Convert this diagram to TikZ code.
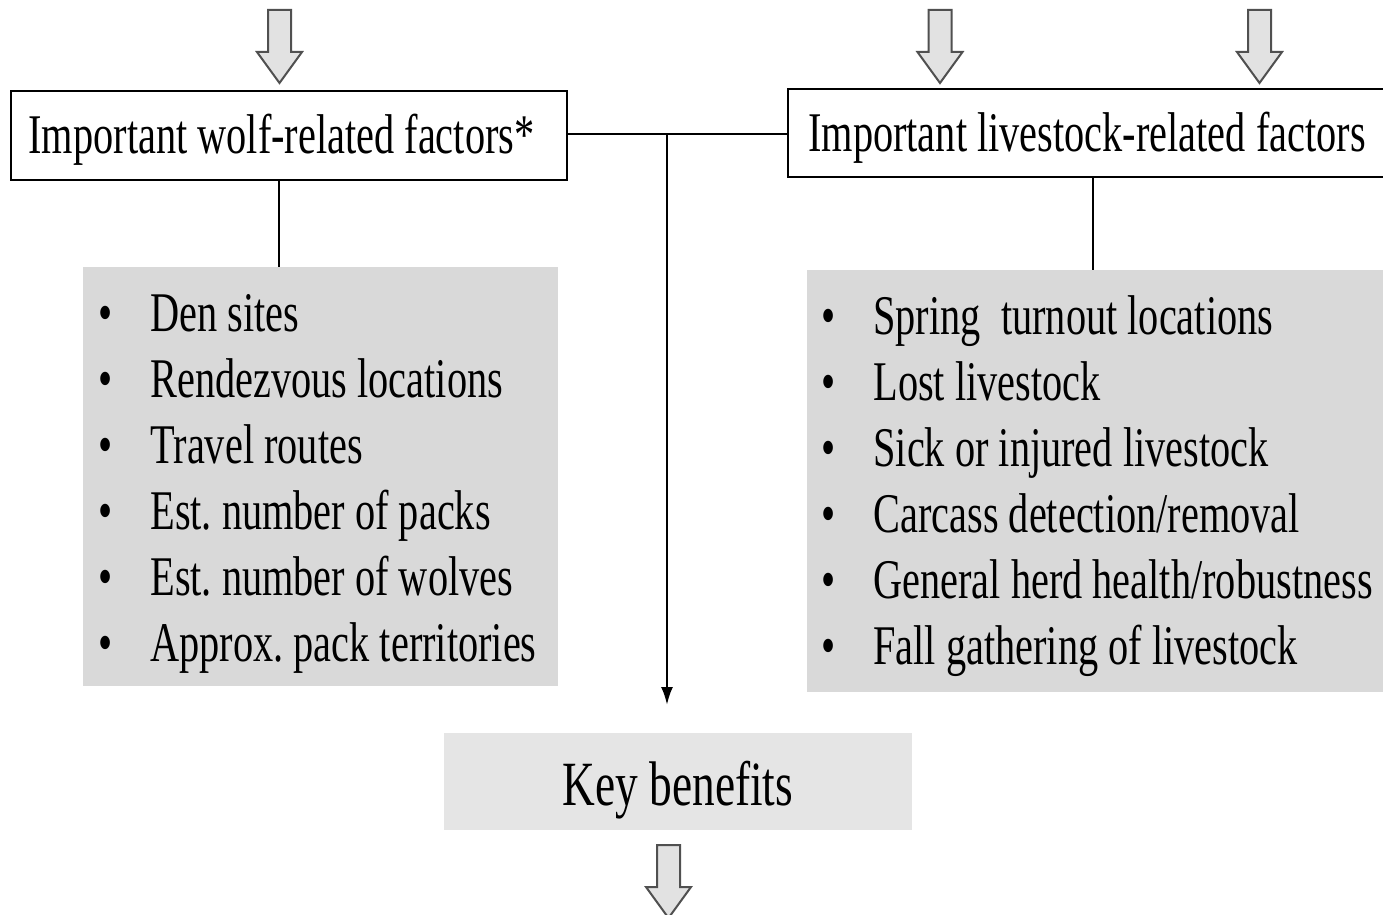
\documentclass[tikz,border=0pt]{standalone}
\usepackage{fontspec}
\setmainfont{Liberation Serif}[FakeStretch=0.72]
\usetikzlibrary{arrows.meta}
\definecolor{greybox}{HTML}{D9D9D9}
\definecolor{keygrey}{HTML}{E5E5E5}
\definecolor{arrowfill}{HTML}{E2E2E2}
\definecolor{arrowline}{HTML}{505050}
\tikzset{
  headbox/.style={draw=black, line width=1pt, fill=white, inner sep=0pt,
    text depth=0pt, font=\fontsize{28}{33}\selectfont},
  listbox/.style={fill=greybox, draw=none, inner sep=0pt},
  keystyle/.style={fill=keygrey, draw=none, inner sep=0pt, text depth=0pt,
    font=\fontsize{31.5}{36}\selectfont},
  item/.style={anchor=base west, inner sep=0pt, font=\fontsize{28}{33}\selectfont},
  conn/.style={draw=black, line width=1.2pt},
  barrow/.pic={\path[fill=arrowfill, draw=arrowline, line width=1pt, line join=miter]
    (-11.5,0) -- (11.5,0) -- (11.5,42) -- (22.5,42) -- (0,73) -- (-22.5,42) -- (-11.5,42) -- cycle;}
}
\begin{document}
\frenchspacing
\begin{tikzpicture}[x=0.5pt,y=-0.5pt]
\clip (0,0) rectangle (1383,915);
\fill[white] (0,0) rectangle (1383,915);

% block arrows
\pic at (279.5,10) {barrow};
\pic at (940,10) {barrow};
\pic at (1259.5,10) {barrow};
\pic at (668.5,845) {barrow};

% heading boxes
\node[headbox, minimum width=278pt, minimum height=44.5pt, text height=18.5pt]
  (wolfbox) at (289,135.5) {Important wolf-related factors*\kern7.5pt};
\node[headbox, minimum width=299pt, minimum height=44pt, text height=19pt]
  (livebox) at (1087,133) {Important livestock-related factors};

% grey list boxes
\node[listbox, minimum width=237.5pt, minimum height=209.5pt] (wolfgrey) at (320.5,476.5) {};
\node[listbox, minimum width=289.5pt, minimum height=211pt] (livegrey) at (1096.5,481) {};

% key benefits
\node[keystyle, minimum width=234pt, minimum height=48.5pt, text height=23.5pt] (keybox) at (678,781.5) {Key benefits};

% list items
\foreach \t [count=\i] in {Den sites, Rendezvous locations, Travel routes,
    Est. number of packs, Est. number of wolves, Approx. pack territories}
  \node[item] (w\i) at (98,{331+66*(\i-1)}) {\makebox[26pt][l]{•}\t};
\foreach \t [count=\i] in {Spring~ turnout locations, Lost livestock,
    Sick or injured livestock, Carcass detection/removal,
    General herd health/robustness, Fall gathering of livestock}
  \node[item] (l\i) at (821,{334+66*(\i-1)}) {\makebox[26pt][l]{•}\t};

% connectors
\coordinate (junc) at (667,134);
\coordinate (arrowend) at (667,705);
\draw[conn] (wolfbox.east |- junc) -- (livebox.west |- junc);
\draw[conn, -{Latex[length=9pt,width=6pt]}] (junc) -- (arrowend);
\draw[conn] ([xshift=-5pt]wolfbox.south) -- ([xshift=-5pt]wolfbox.south |- wolfgrey.north);
\draw[conn] ([xshift=3pt]livebox.south) -- ([xshift=3pt]livebox.south |- livegrey.north);
\end{tikzpicture}
\end{document}
